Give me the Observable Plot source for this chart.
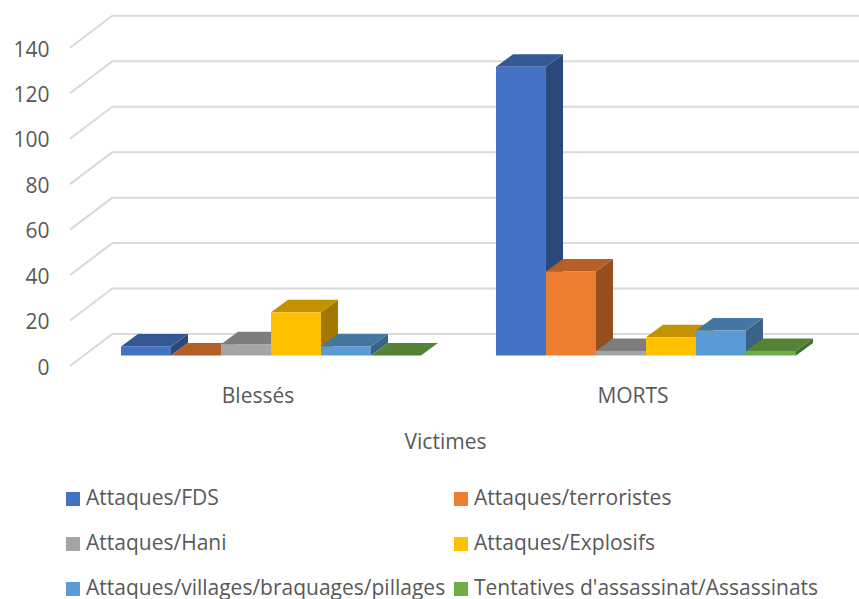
<!DOCTYPE html>
<html lang="fr">
<head>
<meta charset="utf-8">
<script src="https://cdn.jsdelivr.net/npm/d3@7"></script>
<script src="https://cdn.jsdelivr.net/npm/@observablehq/plot@0.6"></script>
<style>
  html, body { margin: 0; padding: 0; background: #fff; overflow: hidden; }
  body { width: 859px; height: 599px; font-family: "Open Sans", sans-serif; color: #595959; }
  svg { display: block; }
  #legend { display: grid; grid-template-columns: 388px 1fr; grid-auto-rows: 20px; row-gap: 25px; padding-left: 66px; font-size: 21px; line-height: 20px; white-space: nowrap; }
  #legend div { display: flex; align-items: center; height: 20px; }
  #legend i { display: block; width: 14px; height: 14px; margin-right: 6px; flex: none; }
  #legend span { position: relative; top: -2px; }
</style>
</head>
<body>
<div id="chart"></div>
<div id="legend"></div>
<script>
const categories = ["Blessés", "MORTS"];
const seriesNames = [
  "Attaques/FDS",
  "Attaques/terroristes",
  "Attaques/Hani",
  "Attaques/Explosifs",
  "Attaques/villages/braquages/pillages",
  "Tentatives d'assassinat/Assassinats"
];
const blesses = [4, 0, 5, 19, 4, 0];
const morts = [127, 37, 2, 8, 11, 2];
const yTicks = [0, 20, 40, 60, 80, 100, 120, 140];
const colors = ["#4472C4", "#ED7D31", "#A5A5A5", "#FFC000", "#5B9BD5", "#70AD47"];

// Oblique projection of the 3D frame
const wall = {dx: 43, dy: -32.5};      // front plane to back wall
const barDepth = {dx: 17, dy: -12.5};  // depth of one box
const barFront = {dx: 13.5, dy: -10.5}; // front plane to bar fronts
const barWidth = 50;
const grid = "#D9D9D9";

const shade = (c, k) => {
  const r = d3.rgb(c);
  return d3.rgb(r.r * k, r.g * k, r.b * k).formatHex();
};
const rowsFor = i => [
  {cat: categories[0], value: blesses[i]},
  {cat: categories[1], value: morts[i]}
];

function polygon(g, points, fill) {
  d3.select(g).append("polygon")
    .attr("points", points.map(p => p.join(",")).join(" "))
    .attr("fill", fill);
}

// Top and side faces of one series' boxes, placed by the chart's own scales
const boxFaces = i => (index, {x, y}) => {
  const g = document.createElementNS("http://www.w3.org/2000/svg", "g");
  const step = x(categories[1]) - x(categories[0]);
  for (const {cat, value} of rowsFor(i)) {
    const left = x(cat) + step / 2 + barFront.dx + (i - 3) * barWidth;
    const right = left + barWidth;
    const top = y(value) + barFront.dy;
    const base = y(0) + barFront.dy;
    const d = barDepth;
    polygon(g, [[right, top], [right + d.dx, top + d.dy], [right + d.dx, base + d.dy], [right, base]], shade(colors[i], 0.63));
    polygon(g, [[left, top], [right, top], [right + d.dx, top + d.dy], [left + d.dx, top + d.dy]], shade(colors[i], 0.76));
  }
  return g;
};

const sideWall = (index, {x, y}) => {
  const g = document.createElementNS("http://www.w3.org/2000/svg", "g");
  const x0 = x(categories[0]);
  for (const t of yTicks) {
    d3.select(g).append("line")
      .attr("x1", x0).attr("y1", y(t))
      .attr("x2", x0 + wall.dx).attr("y2", y(t) + wall.dy)
      .attr("stroke", grid).attr("stroke-width", 2);
  }
  return g;
};

const chart = Plot.plot({
  width: 859,
  height: 489,
  marginLeft: 70,
  marginRight: 39,
  marginTop: 0,
  marginBottom: 123,
  style: {fontFamily: '"Open Sans", sans-serif', fontSize: "21px", color: "#595959", background: "#fff"},
  x: {type: "band", domain: categories, padding: 0},
  y: {domain: [0, 140], range: [366, 47.8]},
  marks: [
    Plot.ruleY(yTicks, {dx: wall.dx, dy: wall.dy, stroke: grid, strokeWidth: 2}),
    sideWall,
    ...seriesNames.flatMap((s, i) => [
      boxFaces(i),
      Plot.barY(rowsFor(i), {
        x: "cat",
        y: "value",
        fill: colors[i],
        insetLeft: 162.5,
        insetRight: 162.5,
        dx: barFront.dx + (i - 2.5) * barWidth,
        dy: barFront.dy
      })
    ]),
    Plot.axisY(yTicks, {tickSize: 0, tickPadding: 21, label: null, fontSize: 21, dy: 1.5}),
    Plot.axisX({tickSize: 0, tickPadding: 22, fontSize: 21, label: "Victimes", labelAnchor: "center", labelArrow: "none", labelOffset: 82})
  ]
});
document.getElementById("chart").appendChild(chart);

const legend = d3.select("#legend");
seriesNames.forEach((s, i) => {
  const item = legend.append("div");
  item.append("i").style("background", colors[i]);
  item.append("span").text(s);
});
</script>
</body>
</html>
